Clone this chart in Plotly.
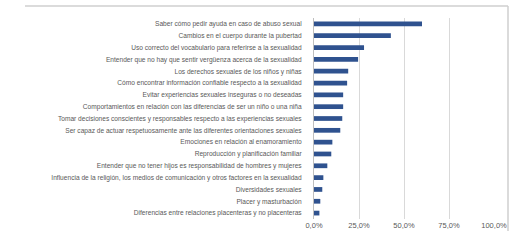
import plotly.graph_objects as go

categories = [
    "Saber cómo pedir ayuda en caso de abuso sexual",
    "Cambios en el cuerpo durante la pubertad",
    "Uso correcto del vocabulario para referirse a la sexualidad",
    "Entender que no hay que sentir vergüenza acerca de la sexualidad",
    "Los derechos sexuales de los niños y niñas",
    "Cómo encontrar información confiable respecto a la sexualidad",
    "Evitar experiencias sexuales inseguras o no deseadas",
    "Comportamientos en relación con las diferencias de ser un niño o una niña",
    "Tomar decisiones conscientes y responsables respecto a las experiencias sexuales",
    "Ser capaz de actuar respetuosamente ante las diferentes orientaciones sexuales",
    "Emociones en relación al enamoramiento",
    "Reproducción y planificación familiar",
    "Entender que no tener hijos es responsabilidad de hombres y mujeres",
    "Influencia de la religión, los medios de comunicación y otros factores en la sexualidad",
    "Diversidades sexuales",
    "Placer y masturbación",
    "Diferencias entre relaciones placenteras y no placenteras",
]
values = [0.60, 0.427, 0.278, 0.245, 0.19, 0.184, 0.162, 0.162, 0.157, 0.146,
          0.102, 0.096, 0.074, 0.052, 0.046, 0.035, 0.03]
tick_vals = [0, 0.25, 0.5, 0.75, 1.0]

PW, PH = 180, 201  # plot area size in px (for border placement)

fig = go.Figure(go.Bar(
    x=values, y=categories, orientation="h",
    marker=dict(color="#2F528F", line=dict(width=0)),
))

fig.update_layout(
    width=517, height=243,
    margin=dict(l=314, r=23, t=18, b=24, autoexpand=False),
    paper_bgcolor="white", plot_bgcolor="white",
    separators=",.",
    bargap=0.6,
    showlegend=False,
    font=dict(family="Liberation Sans", size=7, color="#595959"),
    shapes=[
        dict(type="line", xref="paper", yref="paper", x0=-289/PW, x1=(PW + 14)/PW,
             y0=1 + 12/PH, y1=1 + 12/PH, line=dict(color="#CFCFCF", width=1.5)),
        dict(type="line", xref="paper", yref="paper", x0=(PW + 14)/PW, x1=(PW + 14)/PW,
             y0=1 + 12/PH, y1=-12/PH, line=dict(color="#CFCFCF", width=1.5)),
    ],
)
fig.update_xaxes(
    range=[0, 1], tickvals=tick_vals, tickformat=".1%",
    showgrid=True, gridcolor="#D9D9D9", gridwidth=1,
    zeroline=False, showline=False, ticks="", automargin=False,
    tickfont=dict(size=7.5, color="#595959"),
)
fig.update_yaxes(
    autorange="reversed", showgrid=False, zeroline=False, automargin=False,
    showline=True, linecolor="#BFBFBF", linewidth=1, ticks="",
    ticklabelstandoff=10,
    tickfont=dict(size=6.6, color="#595959"),
)

fig.write_html(
    "out.html",
    config={"displayModeBar": False},
    post_script="document.body.style.margin='0';document.body.style.overflow='hidden';",
)
